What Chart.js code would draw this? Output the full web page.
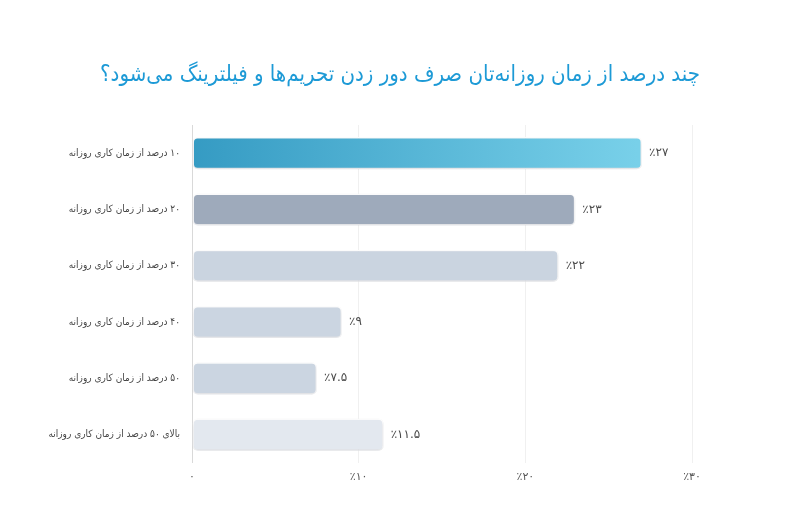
<!DOCTYPE html>
<html lang="fa">
<head>
<meta charset="UTF-8">
<title>چند درصد از زمان روزانه‌تان صرف دور زدن تحریم‌ها و فیلترینگ می‌شود؟</title>
<script src="https://cdn.jsdelivr.net/npm/chart.js"></script>
<style>
    html, body { margin: 0; padding: 0; background: #fff; }
    #wrap { width: 800px; height: 506px; }
</style>
</head>
<body>
<div id="wrap"><canvas id="chart" dir="rtl"></canvas></div>
<script>
    const titleText = 'چند درصد از زمان روزانه‌تان صرف دور زدن تحریم‌ها و فیلترینگ می‌شود؟';
    const categories = [
        '۱۰ درصد از زمان کاری روزانه',
        '۲۰ درصد از زمان کاری روزانه',
        '۳۰ درصد از زمان کاری روزانه',
        '۴۰ درصد از زمان کاری روزانه',
        '۵۰ درصد از زمان کاری روزانه',
        'بالای ۵۰ درصد از زمان کاری روزانه'
    ];
    const values = [27, 23, 22, 9, 7.5, 11.5];
    const valueLabels = ['٪۲۷', '٪۲۳', '٪۲۲', '٪۹', '٪۷.۵', '٪۱۱.۵'];
    const xTicks = [0, 10, 20, 30];
    const xTickLabels = ['۰', '٪۱۰', '٪۲۰', '٪۳۰'];

    const barColors = [null, '#9eaabb', '#cad4e0', '#cbd5e1', '#cbd5e1', '#e3e8ef'];

    function barFill(ctx) {
        if (ctx.dataIndex !== 0) return barColors[ctx.dataIndex];
        const area = ctx.chart.chartArea;
        if (!area) return '#4fb3d8';
        const g = ctx.chart.ctx.createLinearGradient(area.left, 0, area.left + 445, 0);
        g.addColorStop(0, '#359bc3');
        g.addColorStop(1, '#78d0e9');
        return g;
    }

    // title drawn by hand so it stays centred on the whole canvas
    const titlePlugin = {
        id: 'pageTitle',
        afterDraw(chart) {
            const c = chart.ctx;
            c.save();
            c.font = '22px "DejaVu Sans Condensed", "DejaVu Sans"';
            c.fillStyle = '#1d9ad6';
            c.textAlign = 'center';
            c.textBaseline = 'middle';
            c.fillText(titleText, chart.width / 2, 75);
            c.restore();
        }
    };

    const shadowPlugin = {
        id: 'barShadow',
        beforeDatasetsDraw(chart) {
            const c = chart.ctx;
            c.save();
            c.shadowColor = 'rgba(60, 70, 90, 0.2)';
            c.shadowBlur = 4;
            c.shadowOffsetY = 2;
        },
        afterDatasetsDraw(chart) {
            chart.ctx.restore();
        }
    };

    const valuePlugin = {
        id: 'valueLabels',
        afterDatasetsDraw(chart) {
            const c = chart.ctx;
            const meta = chart.getDatasetMeta(0);
            c.save();
            c.font = '12px "DejaVu Sans"';
            c.fillStyle = '#4a4a4a';
            c.textAlign = 'left';
            c.textBaseline = 'middle';
            meta.data.forEach((bar, i) => {
                c.fillText(valueLabels[i], bar.x + 7, bar.y);
            });
            c.restore();
        }
    };

    new Chart(document.getElementById('chart'), {
        type: 'bar',
        data: {
            labels: categories,
            datasets: [{
                data: values,
                backgroundColor: barFill,
                borderColor: '#ffffff',
                borderWidth: 1.5,
                borderSkipped: false,
                borderRadius: 5,
                barPercentage: 0.64,
                categoryPercentage: 0.89
            }]
        },
        options: {
            indexAxis: 'y',
            responsive: true,
            maintainAspectRatio: false,
            animation: false,
            layout: { padding: { left: 0, right: 108, top: 125, bottom: 14 } },
            plugins: {
                legend: { display: false },
                tooltip: { enabled: false },
                title: { display: false }
            },
            scales: {
                x: {
                    min: 0,
                    max: 30,
                    afterBuildTicks(scale) {
                        scale.ticks = xTicks.map(v => ({ value: v }));
                    },
                    ticks: {
                        color: '#555',
                        padding: 8,
                        font: { family: 'DejaVu Sans', size: 11 },
                        callback: (v) => xTickLabels[xTicks.indexOf(v)]
                    },
                    grid: { color: '#f0f0f0', drawTicks: false },
                    border: { display: false }
                },
                y: {
                    afterFit(scale) { scale.width = 192; },
                    ticks: {
                        color: '#444',
                        padding: 4,
                        font: { family: '"DejaVu Sans Condensed", "DejaVu Sans"', size: 10 }
                    },
                    grid: { display: false },
                    border: { color: '#d9d9d9' }
                }
            }
        },
        plugins: [titlePlugin, shadowPlugin, valuePlugin]
    });
</script>
</body>
</html>
